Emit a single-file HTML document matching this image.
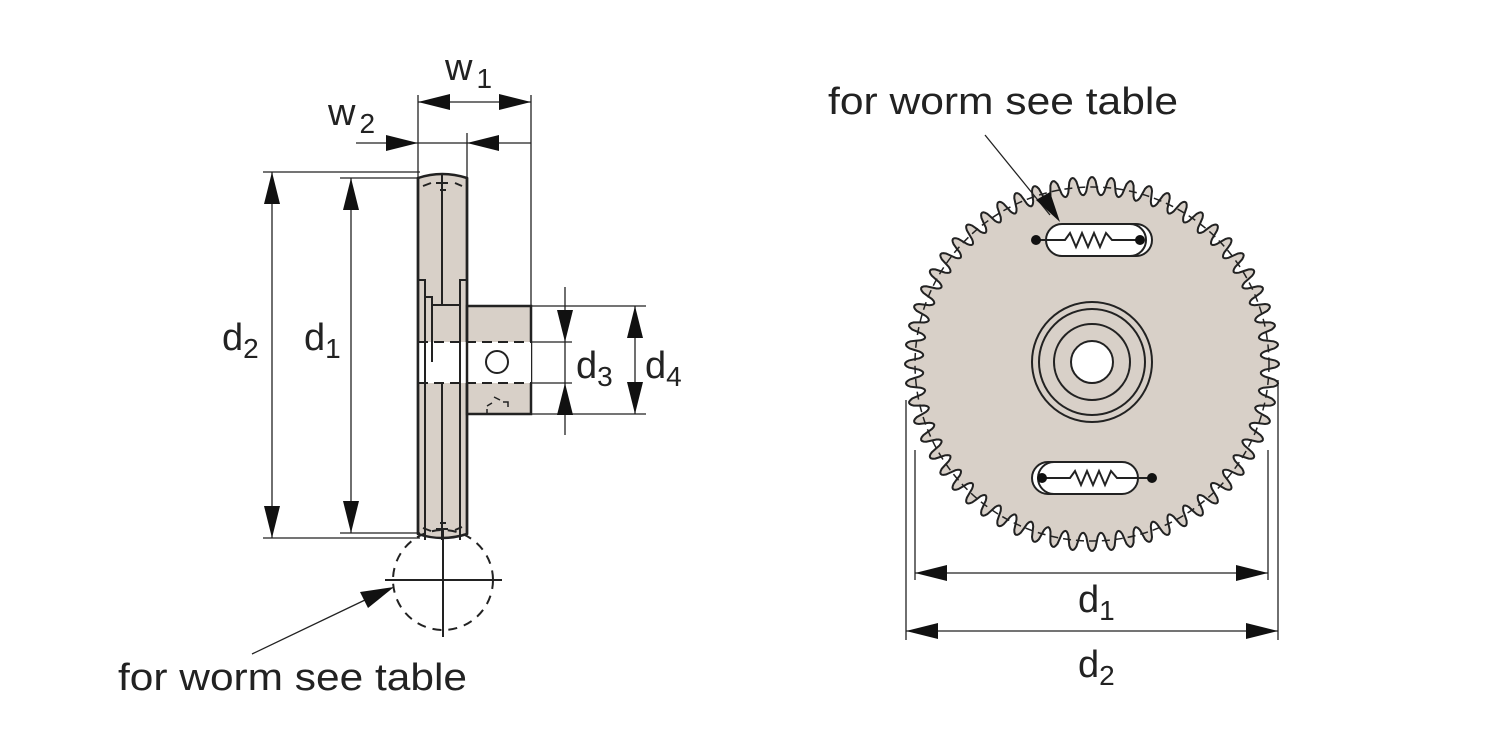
<!DOCTYPE html>
<html><head><meta charset="utf-8"><style>html,body{margin:0;padding:0;background:#fff}svg{display:block}</style></head>
<body>
<svg id="s" width="1500" height="750" viewBox="0 0 1500 750" xmlns="http://www.w3.org/2000/svg" font-family="Liberation Sans, sans-serif">
<g stroke="#222" fill="none">
<!-- Left side view -->
<path d="M418,178 Q442,170 467,178 L467,534 Q442,542 418,534 Z" fill="#d8d0c8" stroke-width="2.5"/>
<rect x="467" y="306" width="64" height="108" fill="#d8d0c8" stroke-width="2.5"/>
<rect x="418" y="342" width="113" height="41" fill="#fff" stroke="none"/>
<line x1="418" y1="178" x2="418" y2="534" stroke-width="2.5"/>
<line x1="467" y1="178" x2="467" y2="534" stroke-width="2.5"/>
<line x1="442" y1="175" x2="442" y2="305" stroke-width="2"/>
<line x1="442" y1="383" x2="442" y2="540" stroke-width="2"/>
<polyline points="418,280 425,280 425,540" stroke-width="2"/>
<polyline points="425,297 432,297 432,362" stroke-width="2"/>
<polyline points="467,280 460,280 460,540" stroke-width="2"/>
<line x1="432" y1="305" x2="460" y2="305" stroke-width="2"/>
<line x1="418" y1="342" x2="531" y2="342" stroke-width="2" stroke-dasharray="10,6"/>
<line x1="418" y1="383" x2="531" y2="383" stroke-width="2" stroke-dasharray="10,6"/>
<circle cx="497" cy="362" r="11" fill="#fff" stroke-width="2"/>
<path d="M423,186 L431,183 M436,183 L448,183 M455,183 L462,186 M440,190 L446,190 M423,528 L431,531 M436,529 L448,529 M455,530 L462,527 M440,523 L446,523" stroke-width="2"/>
<path d="M487,406 L492,403 M494,397 L500,400 M503,402 L508,402 L508,407 M487,409 L487,414" stroke-width="1.5"/>
<!-- worm circle -->
<circle cx="443" cy="580" r="50" stroke-width="2" stroke-dasharray="9,7"/>
<line x1="385" y1="580" x2="502" y2="580" stroke-width="2"/>
<line x1="443" y1="530" x2="443" y2="637" stroke-width="2"/>
<!-- left dims -->
<g stroke-width="1.3">
<line x1="263" y1="172" x2="420" y2="172"/>
<line x1="340" y1="178" x2="420" y2="178"/>
<line x1="263" y1="538" x2="420" y2="538"/>
<line x1="340" y1="533" x2="420" y2="533"/>
<line x1="272" y1="172" x2="272" y2="538"/>
<line x1="351" y1="178" x2="351" y2="533"/>
<line x1="418" y1="95" x2="418" y2="178"/>
<line x1="531" y1="95" x2="531" y2="306"/>
<line x1="467" y1="133" x2="467" y2="178"/>
<line x1="418" y1="102" x2="531" y2="102"/>
<line x1="356" y1="143" x2="531" y2="143"/>
<line x1="531" y1="306" x2="646" y2="306"/>
<line x1="531" y1="414" x2="646" y2="414"/>
<line x1="531" y1="342" x2="572" y2="342"/>
<line x1="531" y1="383" x2="572" y2="383"/>
<line x1="565" y1="287" x2="565" y2="435"/>
<line x1="635" y1="306" x2="635" y2="414"/>
<line x1="252" y1="654" x2="365" y2="600"/>
</g>
<!-- right view -->
<path id="gear" fill="#d8d0c8" stroke-width="2"/>
<circle cx="1092" cy="364" r="177" stroke-width="1.5" stroke-dasharray="8,5"/>
<circle cx="1092" cy="362" r="60" stroke-width="2"/>
<circle cx="1092" cy="362" r="53" stroke-width="2"/>
<circle cx="1092" cy="362" r="38" stroke-width="2"/>
<circle cx="1092" cy="362" r="21" fill="#fff" stroke-width="2"/>
<rect x="1046" y="224" width="106" height="32" rx="16" fill="#fff" stroke-width="2"/>
<path d="M1130,224 A16,16 0 0 1 1130,256" stroke-width="2"/>
<polyline points="1036,240 1065,240 1070,233 1076,247 1082,233 1088,247 1094,233 1100,247 1106,233 1112,240 1140,240" stroke-width="2"/>
<rect x="1032" y="462" width="106" height="32" rx="16" fill="#fff" stroke-width="2"/>
<path d="M1054,462 A16,16 0 0 0 1054,494" stroke-width="2"/>
<polyline points="1042,478 1070,478 1075,471 1081,485 1087,471 1093,485 1099,471 1105,485 1111,471 1117,478 1152,478" stroke-width="2"/>
<g stroke-width="1.3">
<line x1="915" y1="450" x2="915" y2="580"/>
<line x1="1268" y1="450" x2="1268" y2="580"/>
<line x1="906" y1="400" x2="906" y2="640"/>
<line x1="1278" y1="380" x2="1278" y2="640"/>
<line x1="915" y1="573" x2="1268" y2="573"/>
<line x1="906" y1="631" x2="1278" y2="631"/>
<line x1="985" y1="135" x2="1050" y2="215"/>
</g>
</g>
<g fill="#111">
<circle cx="1036" cy="240" r="5"/><circle cx="1140" cy="240" r="5"/>
<circle cx="1042" cy="478" r="5"/><circle cx="1152" cy="478" r="5"/>
<polygon points="272,172 264,204 280,204"/><polygon points="272,538 264,506 280,506"/>
<polygon points="351,178 343,210 359,210"/><polygon points="351,533 343,501 359,501"/>
<polygon points="418,102 450,94 450,110"/><polygon points="531,102 499,94 499,110"/>
<polygon points="418,143 386,135 386,151"/><polygon points="467,143 499,135 499,151"/>
<polygon points="565,342 557,310 573,310"/><polygon points="565,383 557,415 573,415"/>
<polygon points="635,306 627,338 643,338"/><polygon points="635,414 627,382 643,382"/>
<polygon points="915,573 947,565 947,581"/><polygon points="1268,573 1236,565 1236,581"/>
<polygon points="906,631 938,623 938,639"/><polygon points="1278,631 1246,623 1246,639"/>
<polygon points="394,587 360,592 368,608"/>
<polygon points="1060,222 1036,200 1050,192"/>
</g>
<g fill="#222" font-size="38">
<text x="222" y="350">d<tspan font-size="28" dy="8">2</tspan></text>
<text x="304" y="350">d<tspan font-size="28" dy="8">1</tspan></text>
<text x="576" y="378">d<tspan font-size="28" dy="8">3</tspan></text>
<text x="645" y="378">d<tspan font-size="28" dy="8">4</tspan></text>
<text x="445" y="80">w<tspan font-size="28" dx="4" dy="8">1</tspan></text>
<text x="328" y="125">w<tspan font-size="28" dx="4" dy="8">2</tspan></text>
<text x="1078" y="612">d<tspan font-size="28" dy="8">1</tspan></text>
<text x="1078" y="677">d<tspan font-size="28" dy="8">2</tspan></text>
<text x="118" y="690" textLength="349" lengthAdjust="spacingAndGlyphs">for worm see table</text>
<text x="828" y="114" textLength="350" lengthAdjust="spacingAndGlyphs">for worm see table</text>
</g>
</svg>
<script>
(function(){var cx=1092,cy=364,N=60,ro=187,ri=169,p=[];
for(var i=0;i<=N*16;i++){var t=i/(N*16)*2*Math.PI;var c=Math.cos(t*N);var r=(ro+ri)/2+(ro-ri)/2*(c>0?Math.pow(c,0.6):-Math.pow(-c,0.6));
p.push((cx+r*Math.cos(t)).toFixed(1)+","+(cy+r*Math.sin(t)).toFixed(1));}
document.getElementById("gear").setAttribute("d","M"+p.join("L")+"Z");})();
</script>
</body></html>
